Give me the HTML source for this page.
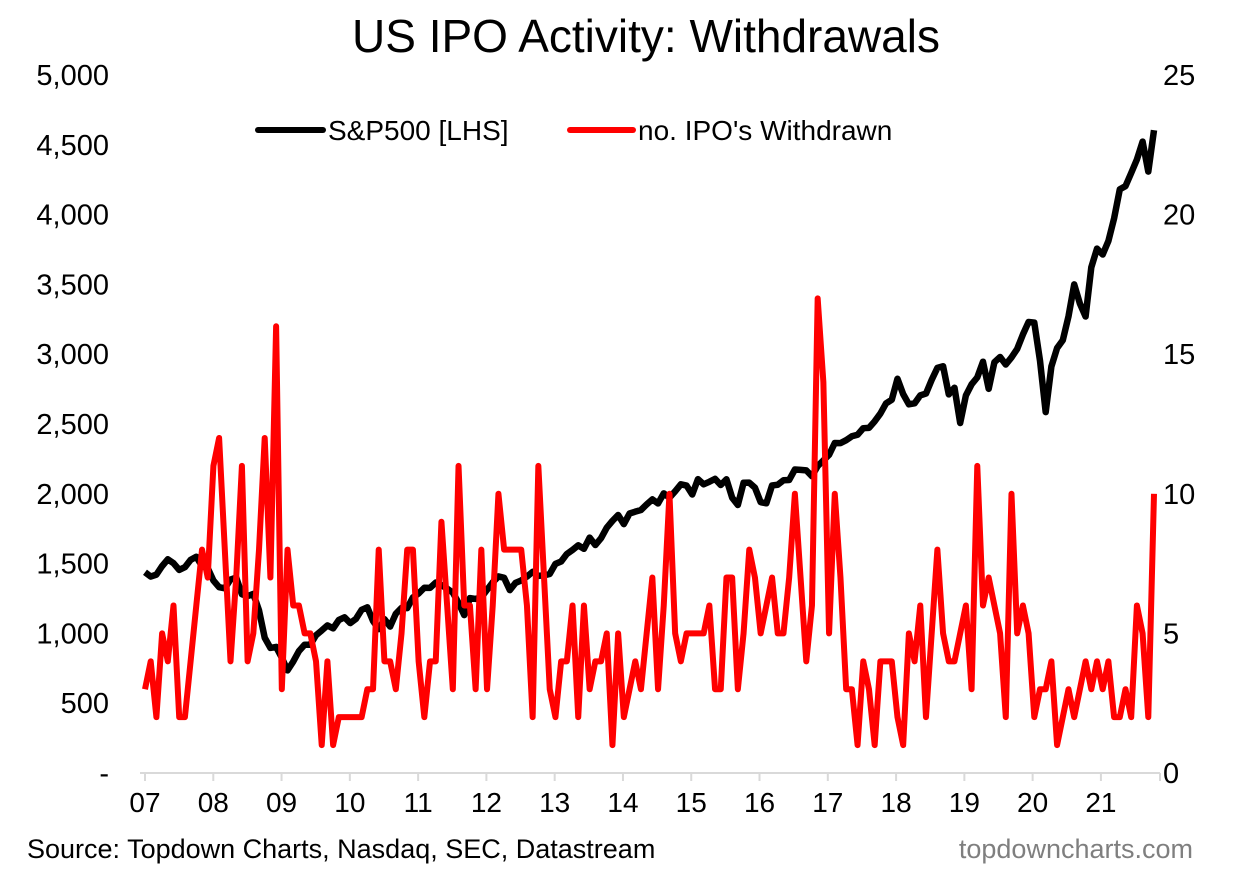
<!DOCTYPE html>
<html><head><meta charset="utf-8"><style>
body{margin:0;background:#fff;width:1241px;height:876px;overflow:hidden;font-family:"Liberation Sans",Arial,sans-serif}
svg text{font-family:"Liberation Sans",Arial,sans-serif}
</style></head><body>
<svg id="chart" width="1241" height="876" viewBox="0 0 1241 876">
<text x="646" y="52" font-size="46" text-anchor="middle">US IPO Activity: Withdrawals</text>
<g>
<line x1="258" y1="130" x2="323" y2="130" stroke="#000" stroke-width="6" stroke-linecap="round"/>
<text x="328" y="140" font-size="28">S&amp;P500 [LHS]</text>
<line x1="570" y1="130" x2="633" y2="130" stroke="#f00" stroke-width="6" stroke-linecap="round"/>
<text x="638" y="140" font-size="28">no. IPO's Withdrawn</text>
</g>
<g id="axes"></g>
<g id="series"></g>
<text x="27" y="858" font-size="27">Source: Topdown Charts, Nasdaq, SEC, Datastream</text>
<text x="1193" y="858" font-size="27" fill="#7f7f7f" text-anchor="end">topdowncharts.com</text>
</svg>
<script>
const yearLabels=["07","08","09","10","11","12","13","14","15","16","17","18","19","20","21"];
const leftTicks=[0,500,1000,1500,2000,2500,3000,3500,4000,4500,5000];
const leftTickLabels=["-","500","1,000","1,500","2,000","2,500","3,000","3,500","4,000","4,500","5,000"];
const rightTicks=[0,5,10,15,20,25];
const sp500=[1438,1407,1421,1482,1531,1503,1455,1474,1527,1549,1481,1468,
1379,1331,1323,1386,1400,1280,1267,1283,1165,969,896,903,
826,735,798,873,919,919,987,1021,1057,1036,1096,1115,
1074,1104,1169,1187,1089,1031,1102,1049,1141,1183,1181,1258,
1286,1327,1326,1364,1345,1321,1292,1219,1131,1253,1247,1258,
1312,1366,1408,1398,1310,1362,1379,1407,1441,1412,1416,1426,
1498,1515,1569,1598,1631,1606,1686,1633,1682,1757,1806,1848,
1783,1859,1872,1884,1924,1960,1931,2003,1972,2018,2068,2059,
1995,2105,2068,2086,2107,2063,2104,1972,1920,2079,2080,2044,
1940,1932,2060,2065,2097,2099,2174,2171,2168,2126,2199,2239,
2279,2364,2363,2384,2412,2423,2470,2472,2519,2575,2648,2674,
2824,2714,2641,2648,2705,2718,2816,2902,2914,2712,2760,2507,
2704,2784,2834,2946,2752,2942,2980,2926,2977,3038,3141,3231,
3226,2954,2585,2912,3044,3100,3271,3500,3363,3270,3622,3756,
3714,3811,3973,4181,4204,4298,4395,4523,4308,4605];
const ipoWithdrawn=[3,4,2,5,4,6,2,2,4,6,8,7,
11,12,8,4,7,11,4,5,8,12,7,16,
3,8,6,6,5,5,4,1,4,1,2,2,
2,2,2,3,3,8,4,4,3,5,8,8,
4,2,4,4,9,6,3,11,6,6,3,8,
3,6,10,8,8,8,8,6,2,11,7,3,
2,4,4,6,2,6,3,4,4,5,1,5,
2,3,4,3,5,7,3,6,10,5,4,5,
5,5,5,6,3,3,7,7,3,5,8,7,
5,6,7,5,5,7,10,7,4,6,17,14,
5,10,7,3,3,1,4,3,1,4,4,4,
2,1,5,4,6,2,5,8,5,4,4,5,
6,3,11,6,7,6,5,2,10,5,6,5,
2,3,3,4,1,2,3,2,3,4,3,4,
3,4,2,2,3,2,6,5,2,10];
const NS="http://www.w3.org/2000/svg";
const x0=145,monthW=(1154-145)/177,yBase=773,yTop=75;
const xScale=i=>x0+i*monthW;
const yL=v=>yBase-(v/5000)*(yBase-yTop);
const yR=v=>yBase-(v/25)*(yBase-yTop);
function mk(tag,attrs,parent,txt){const e=document.createElementNS(NS,tag);for(const k in attrs)e.setAttribute(k,attrs[k]);if(txt!==undefined)e.textContent=txt;parent.appendChild(e);return e;}
const axes=document.getElementById('axes'),series=document.getElementById('series');
const ax=mk('line',{x1:140,y1:yBase,x2:1160,y2:yBase,stroke:'#d9d9d9','stroke-width':2},axes);


yearLabels.forEach((lab,i)=>{
  const x=x0+i*12*5.69;
  const t=mk('line',{x1:x,y1:yBase,x2:x,y2:yBase+8,stroke:'#d9d9d9','stroke-width':2},axes);
  
  
  const tx=mk('text',{x:x,y:yBase+39,'font-size':28,'text-anchor':'middle'},axes,lab);
  
  
});
const endTick=mk('line',{x1:1160,y1:yBase,x2:1160,y2:yBase+8,stroke:'#d9d9d9','stroke-width':2},axes);


leftTicks.forEach((v,i)=>{
  const t=mk('text',{x:109,y:yL(v)+10,'font-size':29,'text-anchor':'end'},axes,leftTickLabels[i]);
  
  
});
rightTicks.forEach(v=>{
  const t=mk('text',{x:1163,y:yR(v)+10,'font-size':29},axes,String(v));
  
  
});
const spPath=mk('polyline',{points:sp500.map((v,i)=>xScale(i)+','+yL(v)).join(' '),fill:'none',stroke:'#000','stroke-width':6.5,'stroke-linejoin':'round'},series);


const ipoPath=mk('polyline',{points:ipoWithdrawn.map((v,i)=>xScale(i)+','+yR(v)).join(' '),fill:'none',stroke:'#f00','stroke-width':6,'stroke-linejoin':'round'},series);


</script>
</body></html>
